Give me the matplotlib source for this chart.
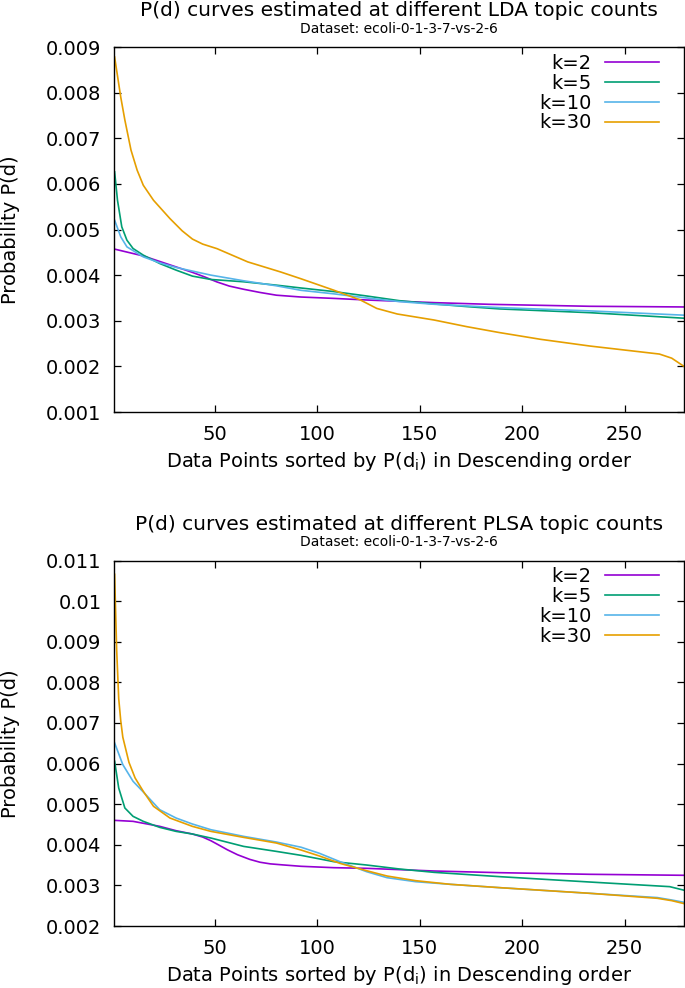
import matplotlib
matplotlib.use("Agg")
import matplotlib.pyplot as plt
from matplotlib.ticker import FuncFormatter

# LDA panel, values
lda_x_k2 = [1, 15, 31, 39, 45, 51, 57, 64, 72, 80, 92, 108, 124, 157, 184, 233, 280]
lda_p_k2 = [0.00457, 0.00442, 0.00418, 0.00406, 0.00396, 0.00385, 0.00376, 0.00369,
            0.00362, 0.00356, 0.00352, 0.00349, 0.003455, 0.003397, 0.00336, 0.003317,
            0.003302]
lda_x_k5 = [1, 2.4, 4.5, 7, 10, 15, 23, 31, 39, 48, 64, 80, 92, 108, 124, 140, 157, 173,
            189, 233, 280]
lda_p_k5 = [0.006263, 0.005642, 0.005058, 0.004766, 0.004584, 0.004438, 0.004255, 0.00411,
            0.003978, 0.003905, 0.003854, 0.00378, 0.003718, 0.00364, 0.003543, 0.00344,
            0.003368, 0.00331, 0.003259, 0.003177, 0.003053]
lda_x_k10 = [1, 4, 7, 15, 23, 31, 48, 64, 80, 92, 108, 124, 140, 157, 189, 233, 280]
lda_p_k10 = [0.005204, 0.004839, 0.00462, 0.0044, 0.00427, 0.004168, 0.0040, 0.003876,
             0.003766, 0.003667, 0.00359, 0.0035, 0.00342, 0.003361, 0.003288, 0.003216,
             0.00312]
lda_x_k30 = [1, 4, 6, 9, 12, 15, 20, 28, 34, 39, 44, 51, 66, 82, 92, 108, 121, 129, 139,
             157, 173, 189, 209, 233, 257, 267, 273, 280]
lda_p_k30 = [0.00878, 0.0079, 0.0074, 0.00674, 0.0063, 0.00597, 0.00564, 0.00524, 0.00497,
             0.00479, 0.00468, 0.00458, 0.00429, 0.00407, 0.00392, 0.00367, 0.003455,
             0.00327, 0.003148, 0.003016, 0.00287, 0.00274, 0.002593, 0.002446, 0.002322,
             0.00227, 0.00218, 0.00197]

# PLSA panel
plsa_x_k2 = [1, 10, 23, 31, 39, 44, 48, 52, 56, 61, 67, 72, 77, 83, 92, 108, 124, 157, 189,
             233, 280]
plsa_p_k2 = [0.004601, 0.004577, 0.004454, 0.004347, 0.004265, 0.00419, 0.0041, 0.00399,
             0.003878, 0.003755, 0.00364, 0.00357, 0.00353, 0.003505, 0.00347, 0.003436,
             0.00342, 0.003354, 0.003313, 0.003273, 0.003248]
plsa_x_k5 = [1, 3, 6, 10, 15, 23, 31, 39, 48, 64, 80, 92, 108, 124, 140, 157, 189, 233,
             272, 280]
plsa_p_k5 = [0.006056, 0.005398, 0.004906, 0.0047, 0.004577, 0.004429, 0.00433, 0.004265,
             0.004166, 0.00396, 0.003837, 0.00374, 0.003584, 0.003502, 0.003404, 0.003321,
             0.003215, 0.003083, 0.002969, 0.002869]
plsa_x_k10 = [1, 5, 10, 15, 23, 31, 39, 48, 64, 80, 92, 101, 111, 124, 134, 148, 165, 189,
              233, 266, 273, 280]
plsa_p_k10 = [0.006508, 0.005974, 0.005563, 0.0053, 0.004864, 0.004659, 0.004511, 0.004371,
              0.004207, 0.004067, 0.00394, 0.00379, 0.003584, 0.003338, 0.00319, 0.003091,
              0.003026, 0.002944, 0.002805, 0.0027, 0.00264, 0.002574]
plsa_x_k30 = [1, 2, 3, 4, 5, 8, 11, 15, 20, 28, 39, 48, 64, 80, 92, 101, 111, 124, 134, 148,
              165, 189, 233, 266, 273, 280]
plsa_p_k30 = [0.01066, 0.0088, 0.0076, 0.00705, 0.00665, 0.00603, 0.005645, 0.005316,
              0.004947, 0.004659, 0.004453, 0.00433, 0.004182, 0.004043, 0.003871, 0.003724,
              0.003543, 0.003362, 0.003231, 0.003116, 0.003026, 0.002944, 0.002805, 0.002682,
              0.002624, 0.00254]

labels = ["k=2", "k=5", "k=10", "k=30"]
colors = ["#9400d3", "#009e73", "#56b4e9", "#e69f00"]

W, H = 685, 988
fig = plt.figure(figsize=(W / 100, H / 100), dpi=100)
plt.rcParams["font.family"] = "DejaVu Sans"


def panel(top_px, bottom_px, series, ylim, yticks, title):
    left, right = 114, 684
    ax = fig.add_axes([left / W, 1 - bottom_px / H, (right - left) / W,
                       (bottom_px - top_px) / H])
    for (xs, ps), lab, c in zip(series, labels, colors):
        ax.plot(xs, ps, color=c, lw=1.2, label=lab)
    ax.set_xlim(0.7, 279)
    ax.set_ylim(*ylim)
    ax.set_xticks([50, 100, 150, 200, 250])
    ax.set_yticks(yticks)
    ax.yaxis.set_major_formatter(FuncFormatter(lambda v, p: "%g" % round(v, 6)))
    ax.tick_params(direction="in", top=True, right=True, length=5, width=0.9,
                   labelsize=14, pad=9)
    for s in ax.spines.values():
        s.set_linewidth(1.0)
    ax.set_ylabel("Probability P(d)", fontsize=14)
    ax.yaxis.set_label_coords(-0.165, 0.5)
    ax.set_xlabel(r"Data Points sorted by P(d$_\mathregular{i}$) in Descending order",
                  fontsize=14)
    ax.xaxis.set_label_coords(0.5, -0.104)
    ax.legend(loc="upper right", bbox_to_anchor=(0.956, 0.982), frameon=False,
              markerfirst=False, fontsize=14, handlelength=2.78, handletextpad=0.67,
              labelspacing=0.05, borderpad=0, borderaxespad=0)
    cx = (left + right) / 2 / W
    fig.text(cx, 1 - (top_px - 36) / H, title, fontsize=14.5, ha="center", va="center")
    fig.text(cx, 1 - (top_px - 18) / H, "Dataset: ecoli-0-1-3-7-vs-2-6", fontsize=10,
             ha="center", va="center")
    return ax


panel(47, 412,
      [(lda_x_k2, lda_p_k2), (lda_x_k5, lda_p_k5), (lda_x_k10, lda_p_k10),
       (lda_x_k30, lda_p_k30)],
      (0.001, 0.009), [0.001 * i for i in range(1, 10)],
      "P(d) curves estimated at different LDA topic counts")
panel(560.5, 926,
      [(plsa_x_k2, plsa_p_k2), (plsa_x_k5, plsa_p_k5), (plsa_x_k10, plsa_p_k10),
       (plsa_x_k30, plsa_p_k30)],
      (0.002, 0.011), [0.001 * i for i in range(2, 12)],
      "P(d) curves estimated at different PLSA topic counts")

fig.savefig("out.png", dpi=100)
